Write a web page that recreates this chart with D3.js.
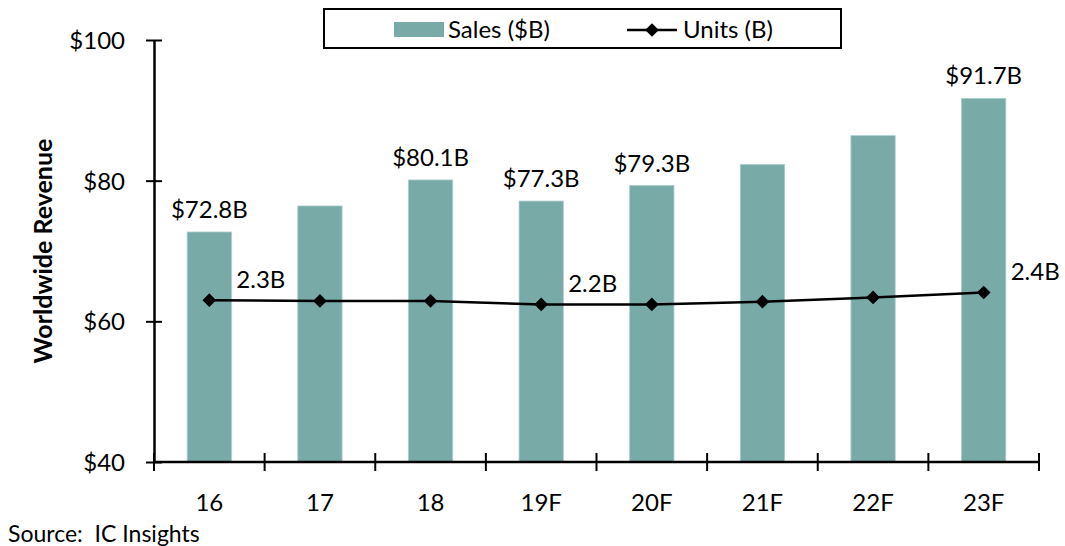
<!DOCTYPE html>
<html>
<head>
<meta charset="utf-8">
<script src="https://cdn.jsdelivr.net/npm/d3@7"></script>
<style>
  body { margin: 0; background: #fff; }
  svg { font-family: Lato, "Open Sans", sans-serif; }
  .tick text { font-size: 24px; fill: #000; }
  .label { font-size: 24px; fill: #000; }
</style>
</head>
<body>
<svg width="1065" height="546"></svg>
<script>
const years = ["16", "17", "18", "19F", "20F", "21F", "22F", "23F"];
const sales = [72.7, 76.4, 80.1, 77.1, 79.3, 82.3, 86.4, 91.7];
const units = [2.30, 2.29, 2.29, 2.24, 2.24, 2.28, 2.34, 2.41];
const salesLabels = ["$72.8B", "", "$80.1B", "$77.3B", "$79.3B", "", "", "$91.7B"];
const unitLabels = ["2.3B", "", "", "2.2B", "", "", "", "2.4B"];
const yTicks = [40, 60, 80, 100];

const plotL = 154, plotR = 1039, plotT = 40, plotB = 462;
const svg = d3.select("svg");

const x = d3.scaleBand().domain(years).range([plotL, plotR])
        .paddingInner(0.6).paddingOuter(0.3);
const y = d3.scaleLinear().domain([40, 100]).range([plotB, plotT]);
const y2 = d3.scaleLinear().domain([0, 6]).range([plotB, plotT]); // hidden units axis

// bars
svg.selectAll("rect.bar").data(sales).join("rect").attr("class", "bar")
    .attr("x", (d, i) => x(years[i]))
    .attr("width", x.bandwidth())
    .attr("y", d => y(d))
    .attr("height", d => y(40) - y(d))
    .attr("fill", "#78aaa8")
    .attr("stroke", "#a9cccb").attr("stroke-width", 0.8);

svg.selectAll("text.slab").data(sales).join("text").attr("class", "label slab")
    .attr("x", (d, i) => x(years[i]) + x.bandwidth() / 2)
    .attr("y", d => y(d) - 14)
    .attr("text-anchor", "middle")
    .text((d, i) => salesLabels[i]);

// y axis
const axisY = d3.axisLeft(y).tickValues(yTicks).tickSize(0).tickPadding(29)
        .tickFormat(d => "$" + d);
const yG = svg.append("g").attr("transform", `translate(${plotL},0)`).call(axisY);
yG.select(".domain").attr("stroke", "#000").attr("stroke-width", 2.5);
yG.selectAll(".tick line").attr("x1", -8).attr("x2", 8).attr("stroke", "#000").attr("stroke-width", 2);
yG.selectAll(".tick text").attr("dy", "0.35em").style("font-family", "Lato, sans-serif");

// x axis: line, boundary ticks, centred labels
svg.append("line").attr("x1", plotL).attr("x2", plotR).attr("y1", plotB).attr("y2", plotB)
    .attr("stroke", "#000").attr("stroke-width", 2.5);
svg.selectAll("line.xt").data(d3.range(years.length + 1)).join("line").attr("class", "xt")
    .attr("x1", i => x.range()[0] + i * x.step()).attr("x2", i => x.range()[0] + i * x.step())
    .attr("y1", plotB - 9).attr("y2", plotB + 9)
    .attr("stroke", "#000").attr("stroke-width", 2);
svg.selectAll("text.xl").data(years).join("text").attr("class", "label xl")
    .attr("x", d => x(d) + x.bandwidth() / 2)
    .attr("y", 511)
    .attr("text-anchor", "middle")
    .text(d => d);

// units line
const cx = i => x(years[i]) + x.bandwidth() / 2;
const line = d3.line().x((d, i) => cx(i)).y(d => y2(d));
svg.append("path").datum(units).attr("d", line)
    .attr("fill", "none").attr("stroke", "#000").attr("stroke-width", 2.5);
const diamond = d3.symbol().type(d3.symbolDiamond2).size(120);
svg.selectAll("path.mk").data(units).join("path").attr("class", "mk")
    .attr("d", diamond)
    .attr("transform", (d, i) => `translate(${cx(i)},${y2(d)})`)
    .attr("fill", "#000");
svg.selectAll("text.ulab").data(units).join("text").attr("class", "label ulab")
    .attr("x", (d, i) => cx(i) + 27)
    .attr("y", d => y2(d) - 12)
    .text((d, i) => unitLabels[i]);

// axis title
svg.append("text")
    .attr("transform", `translate(52,${(plotT + plotB) / 2}) rotate(-90)`)
    .attr("text-anchor", "middle")
    .style("font-size", "25px").style("font-weight", "bold")
    .text("Worldwide Revenue");

// source
svg.append("text").attr("x", 8).attr("y", 542)
    .style("font-size", "23px").attr("xml:space", "preserve")
    .text("Source:  IC Insights");

// legend
const lg = svg.append("g");
lg.append("rect").attr("x", 324).attr("y", 9).attr("width", 517).attr("height", 39)
    .attr("fill", "#fff").attr("stroke", "#000").attr("stroke-width", 2);
lg.append("rect").attr("x", 394).attr("y", 22).attr("width", 50).attr("height", 15)
    .attr("fill", "#78aaa8");
lg.append("text").attr("class", "label").attr("x", 448).attr("y", 38).text("Sales ($B)");
lg.append("line").attr("x1", 627).attr("x2", 677).attr("y1", 30).attr("y2", 30)
    .attr("stroke", "#000").attr("stroke-width", 2.5);
lg.append("path").attr("d", diamond).attr("transform", "translate(652,30)").attr("fill", "#000");
lg.append("text").attr("class", "label").attr("x", 683).attr("y", 38).text("Units (B)");
</script>
</body>
</html>
